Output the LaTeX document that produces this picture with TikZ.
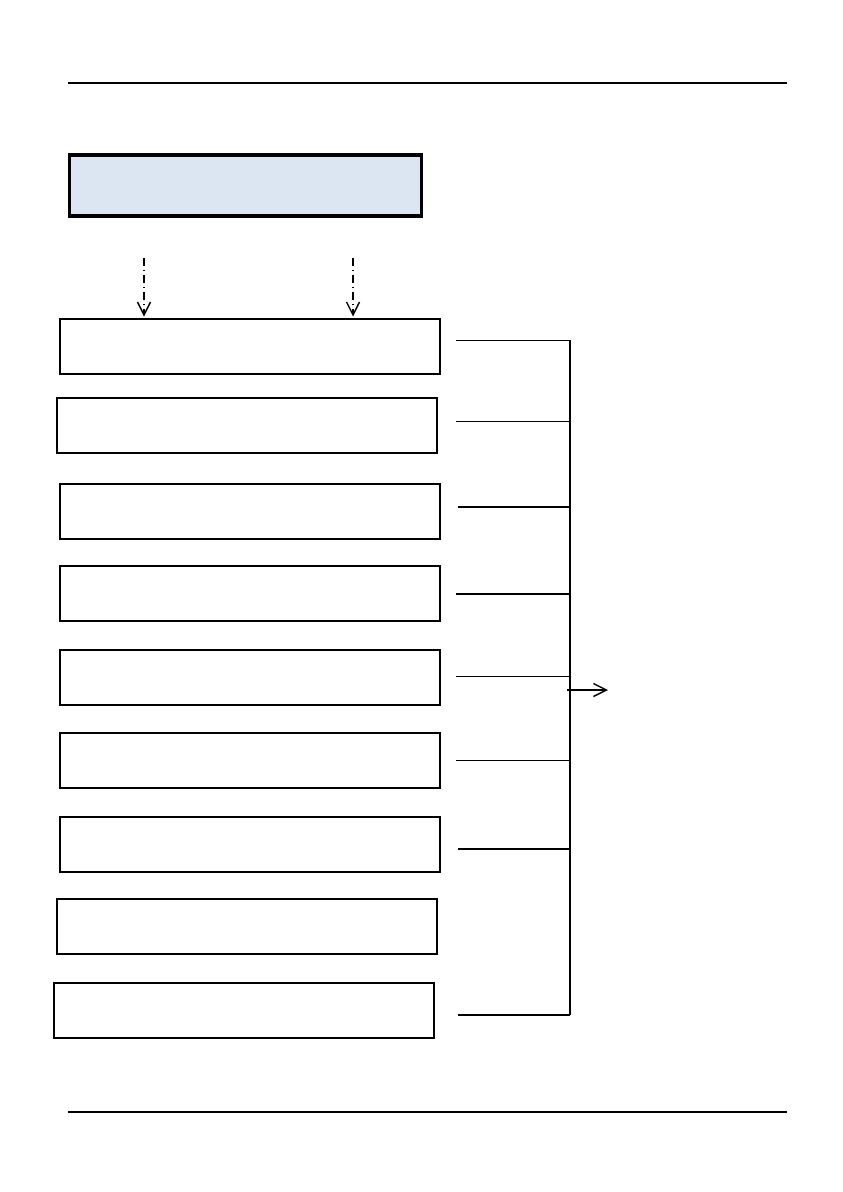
\documentclass[tikz,border=0pt]{standalone}
\usetikzlibrary{arrows.meta}
\definecolor{hdrfill}{HTML}{DCE6F2}
\begin{document}
\begin{tikzpicture}[x={(1pt,0)},y={(0,-1pt)},
  boxstyle/.style={draw=black,line width=2pt,fill=white,rectangle,inner sep=0pt,minimum width=380pt,minimum height=55pt},
  hdrstyle/.style={draw=black,line width=3.7pt,fill=hdrfill,rectangle,inner sep=0pt,minimum width=352pt,minimum height=61pt},
  rulestyle/.style={line width=1.2pt},
  thinlink/.style={line width=1pt},
  thicklink/.style={line width=1.7pt},
  dasharrow/.style={line width=1.2pt,dash pattern=on 8pt off 4pt on 1pt off 4pt,-{Straight Barb[length=13pt,width=13pt,line width=1.4pt]}},
  outarrow/.style={line width=1.3pt,-{Straight Barb[length=13pt,width=13pt,line width=1.4pt]}}]
\useasboundingbox (0,0) rectangle (843,1192);
% page rules
\coordinate (rt1) at (68,83); \coordinate (rt2) at (787,83);
\coordinate (rb1) at (68,1112); \coordinate (rb2) at (787,1112);
\draw[rulestyle] (rt1) -- (rt2);
\draw[rulestyle] (rb1) -- (rb2);
% header box
\node[hdrstyle] (hdr) at (245.5,185.5) {};
% boxes
\node[boxstyle] (b1) at (249.5,346) {};
\node[boxstyle] (b2) at (247,425.5) {};
\node[boxstyle] (b3) at (249.5,511) {};
\node[boxstyle] (b4) at (249.5,593.5) {};
\node[boxstyle] (b5) at (249.5,677.5) {};
\node[boxstyle] (b6) at (249.5,760) {};
\node[boxstyle] (b7) at (249.5,844) {};
\node[boxstyle] (b8) at (247,926.5) {};
\node[boxstyle] (b9) at (244,1010.5) {};
% dashed arrows
\coordinate (da1) at (144,258); \coordinate (da2) at (353,258);
\draw[dasharrow] (da1) -- ([yshift=1pt]da1 |- b1.north);
\draw[dasharrow] (da2) -- ([yshift=1pt]da2 |- b1.north);
% bracket
\coordinate (v1) at (570,340);
\coordinate (v2) at (570,421);
\coordinate (v3) at (570,507);
\coordinate (v4) at (570,594);
\coordinate (v5) at (570,676);
\coordinate (v6) at (570,760);
\coordinate (v7) at (570,849);
\coordinate (v9) at (570,1015);
\coordinate (h1) at (456,340);
\coordinate (h2) at (456,421);
\coordinate (h3) at (458,507);
\coordinate (h4) at (456,594);
\coordinate (h5) at (456,676);
\coordinate (h6) at (456,760);
\coordinate (h7) at (458,849);
\coordinate (h9) at (458,1015);
\draw[line width=2pt] (v1) -- (v9);
\draw[thinlink] (h1) -- (v1);
\draw[thinlink] (h2) -- (v2);
\draw[thicklink] (h3) -- (v3);
\draw[thicklink] (h4) -- (v4);
\draw[thinlink] (h5) -- (v5);
\draw[thinlink] (h6) -- (v6);
\draw[thicklink] (h7) -- (v7);
\draw[line width=1.3pt] (h9) -- (v9);
% output arrow
\coordinate (oa1) at (567,690); \coordinate (oa2) at (608,690);
\draw[outarrow] (oa1) -- (oa2);
\end{tikzpicture}
\end{document}
